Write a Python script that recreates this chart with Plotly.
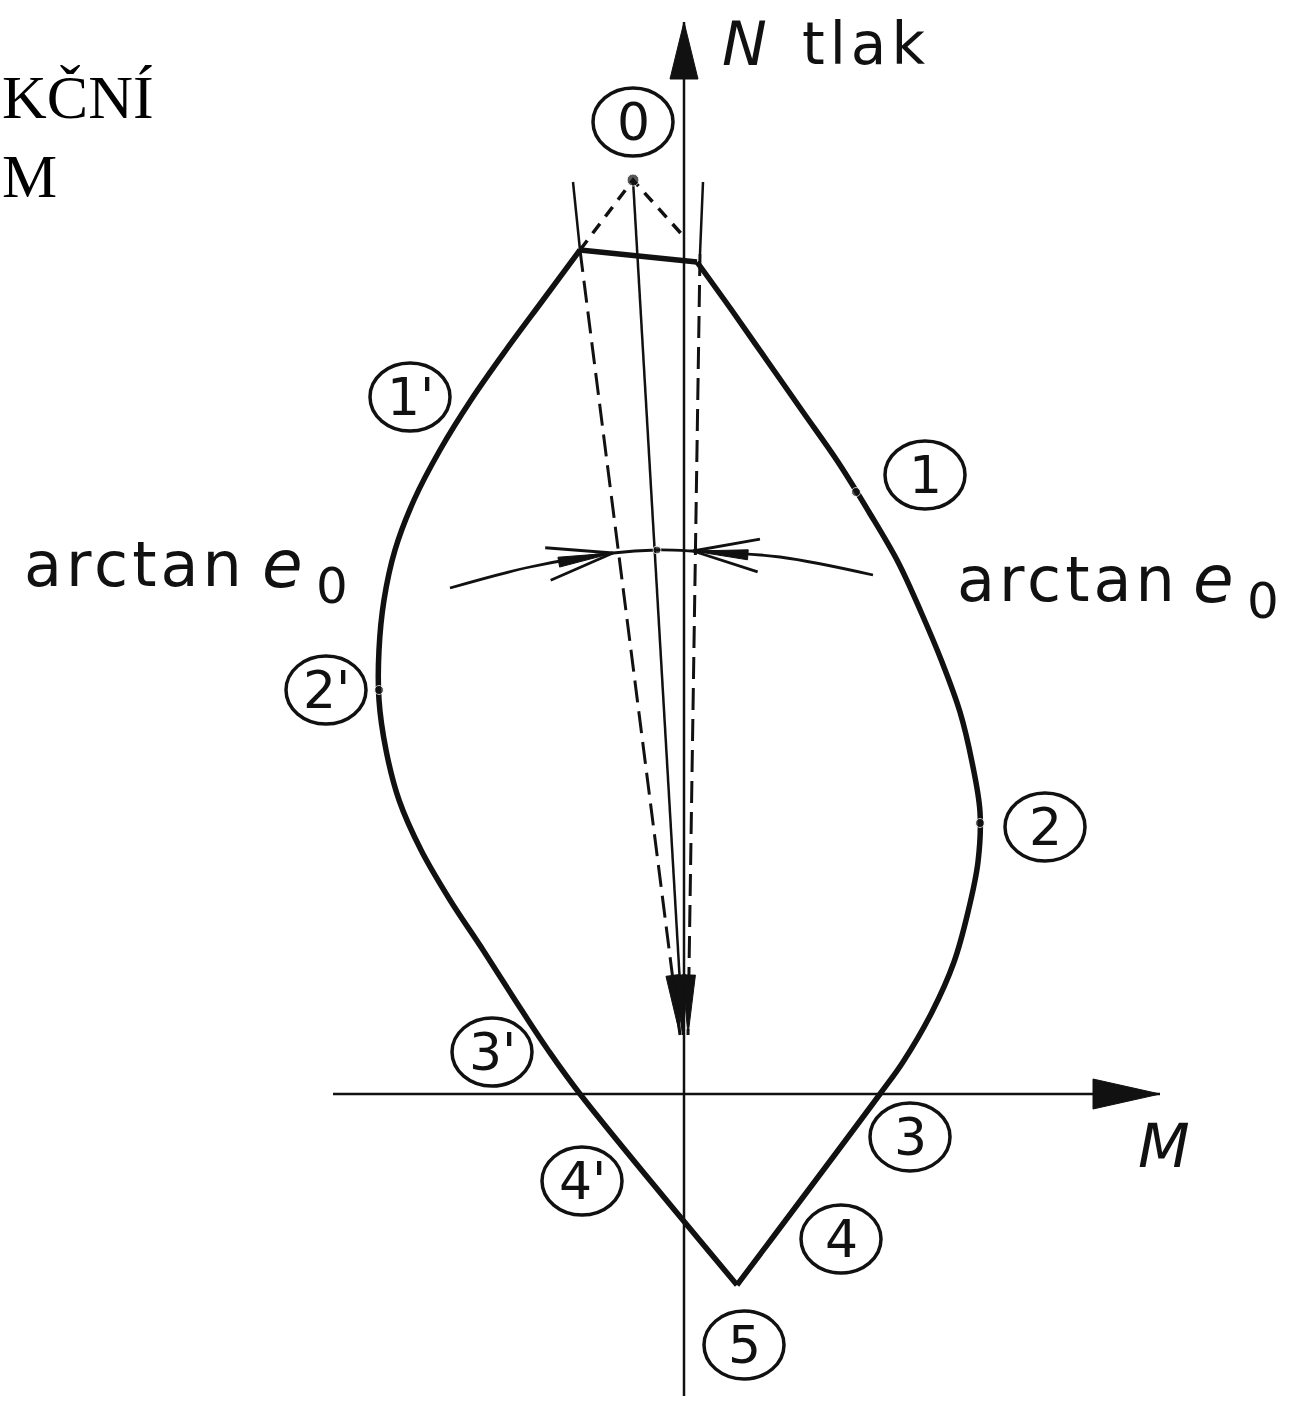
import numpy as np
import plotly.graph_objects as go

# Interaction diagram (N - M) of a cross-section.
# Drawing units: M to the right, N (compression) upward; 1 unit = 100 px.

# left branch of the failure envelope: top corner -> tension tip (point 5)
left_branch_M = [-1.04, -1.41, -1.78, -2.13, -2.44, -2.70, -2.89, -3.00, -3.05, -3.05,
                 -2.98, -2.85, -2.63, -2.34, -2.01, -1.69, -1.36, -1.04, 0.53]
left_branch_N = [8.44, 7.94, 7.44, 6.94, 6.44, 5.94, 5.44, 4.94, 4.44, 3.94,
                 3.44, 2.94, 2.44, 1.94, 1.44, 0.94, 0.44, 0.00, -1.91]

# right branch of the failure envelope: top corner -> tension tip (point 5)
right_branch_M = [0.13, 0.49, 0.84, 1.19, 1.54, 1.85, 2.14, 2.37, 2.58, 2.76,
                  2.88, 2.96, 2.94, 2.84, 2.70, 2.48, 2.19, 1.96, 0.53]
right_branch_N = [8.32, 7.82, 7.32, 6.82, 6.32, 5.82, 5.32, 4.82, 4.32, 3.82,
                  3.32, 2.82, 2.32, 1.82, 1.32, 0.82, 0.32, 0.00, -1.91]

# top chord between the two corners
top_chord_M = [-1.04, 0.13]
top_chord_N = [8.44, 8.32]

# pure compression point 0 and the dashed cut-off
peak_M, peak_N = -0.51, 9.14
cutoff_M = [-1.04, -0.51, 0.02]
cutoff_N = [8.44, 9.14, 8.55]

# marked points on the envelope (1, 2, 2')
dots_M = [1.72, 2.96, -3.05]
dots_N = [6.02, 2.71, 4.04]

# lines of limiting eccentricity (top, corner, foot)
ecc_left_M = [-1.11, -1.04, -0.04]
ecc_left_N = [9.12, 8.44, 0.59]
ecc_right_M = [0.19, 0.16, 0.04]
ecc_right_N = [9.12, 8.40, 0.59]
axial_M = [peak_M, -0.01]
axial_N = [peak_N, 0.59]

# arc marking the angle arctan e0
arc_M = [-2.34, -1.54, -0.71, -0.27, 0.09, 0.96, 1.89]
arc_N = [5.06, 5.27, 5.41, 5.44, 5.43, 5.37, 5.19]

# circled point numbers
point_labels = ["0", "1'", "1", "2'", "2", "3'", "3", "4'", "4", "5"]
label_M = [-0.51, -2.74, 2.41, -3.58, 3.61, -1.92, 2.26, -1.02, 1.57, 0.60]
label_N = [9.72, 6.97, 6.19, 4.04, 2.67, 0.42, -0.43, -0.87, -1.45, -2.51]

# axes
n_axis_M = [0.0, 0.0]
n_axis_N = [-3.02, 10.72]
m_axis_M = [-3.51, 4.76]
m_axis_N = [0.0, 0.0]

INK = "#111111"
FONT = "DejaVu Sans"


def head_path(tip, tail, length, half):
    tip = np.asarray(tip, float)
    d = tip - np.asarray(tail, float)
    d /= np.hypot(*d)
    p = np.array([-d[1], d[0]])
    base = tip - d * length
    a = base + p * half
    b = base - p * half
    return f"M {tip[0]},{tip[1]} L {a[0]},{a[1]} L {b[0]},{b[1]} Z"


def barbs(tip, tail, length, spread):
    tip = np.asarray(tip, float)
    d = tip - np.asarray(tail, float)
    d /= np.hypot(*d)
    out = []
    for s in (1, -1):
        c, sn = np.cos(s * spread), np.sin(s * spread)
        r = np.array([d[0] * c - d[1] * sn, d[0] * sn + d[1] * c])
        end = tip - r * length
        out.append(([tip[0], end[0]], [tip[1], end[1]]))
    return out


fig = go.Figure()


def line(xs, ys, width, dash="solid", shape="linear", color=INK, smoothing=1.0):
    fig.add_trace(go.Scatter(
        x=xs, y=ys, mode="lines", hoverinfo="skip", showlegend=False,
        line=dict(color=color, width=width, dash=dash, shape=shape, smoothing=smoothing),
    ))


# axes
line(n_axis_M, n_axis_N, 2.5)
line(m_axis_M, m_axis_N, 2.5)

# eccentricity lines: solid above the corner, dashed below
line(ecc_left_M[:2], ecc_left_N[:2], 2.5)
line(ecc_left_M[1:], ecc_left_N[1:], 3, dash="22px,9px")
line(ecc_right_M[:2], ecc_right_N[:2], 2.5)
line(ecc_right_M[1:], ecc_right_N[1:], 3, dash="22px,9px")
line(axial_M, axial_N, 2.5)

# cut-off of the compression peak
line(cutoff_M, cutoff_N, 3.5, dash="12px,9px")

# envelope
line(left_branch_M, left_branch_N, 5.5, shape="spline", smoothing=1.0)
line(right_branch_M, right_branch_N, 5.5, shape="spline", smoothing=1.0)
line(top_chord_M, top_chord_N, 5.5)

# angle arc
line(arc_M, arc_N, 2.8, shape="spline")

# points
fig.add_trace(go.Scatter(
    x=dots_M + [peak_M, arc_M[3]], y=dots_N + [peak_N, arc_N[3]], mode="markers",
    hoverinfo="skip", showlegend=False,
    marker=dict(color=INK, size=[9, 9, 9, 12, 8]),
))

shapes = []
# axis arrowheads
shapes.append(dict(type="path", xref="x", yref="y", fillcolor=INK, line=dict(color=INK, width=1),
                   path=head_path((n_axis_M[1], n_axis_N[1]), (n_axis_M[0], n_axis_N[0]), 0.57, 0.14)))
shapes.append(dict(type="path", xref="x", yref="y", fillcolor=INK, line=dict(color=INK, width=1),
                   path=head_path((m_axis_M[1], m_axis_N[1]), (m_axis_M[0], m_axis_N[0]), 0.67, 0.15)))
# arrowheads at the foot of the eccentricity lines
for xs, ys in ((ecc_left_M, ecc_left_N), (ecc_right_M, ecc_right_N), (axial_M, axial_N)):
    shapes.append(dict(type="path", xref="x", yref="y", fillcolor=INK, line=dict(color=INK, width=1),
                       path=head_path((xs[-1], ys[-1]), (xs[-2], ys[-2]), 0.60, 0.065)))

# arrows on the angle arc
for tip_i, tail_i in ((2, 1), (4, 5)):
    tip = (arc_M[tip_i], arc_N[tip_i])
    tail = (arc_M[tail_i], arc_N[tail_i])
    shapes.append(dict(type="path", xref="x", yref="y", fillcolor=INK, line=dict(color=INK, width=1),
                       path=head_path(tip, tail, 0.55, 0.05)))
    for bx, by in barbs(tip, tail, 0.68, np.radians(14)):
        line(bx, by, 2.8)

# circles round the point numbers
for m, n in zip(label_M, label_N):
    shapes.append(dict(type="circle", xref="x", yref="y", x0=m - 0.40, x1=m + 0.40,
                       y0=n - 0.34, y1=n + 0.34, line=dict(color=INK, width=3.5)))

annotations = []
for t, m, n in zip(point_labels, label_M, label_N):
    annotations.append(dict(x=m, y=n, xref="x", yref="y", text=t, showarrow=False,
                            xanchor="center", yanchor="middle",
                            font=dict(family=FONT, size=52, color=INK)))


def note(x, y, text, size, anchor="left", style="normal", family=FONT, color=INK):
    annotations.append(dict(x=x, y=y, xref="x", yref="y", text=text, showarrow=False,
                            xanchor=anchor, yanchor="middle",
                            font=dict(family=family, size=size, color=color, style=style)))


# axis titles
note(0.36, 10.50, "N", 60, style="italic")
note(1.16, 10.50, '<span style="letter-spacing:5px">tlak</span>', 58)
note(4.80, -0.52, "M", 60, anchor="center", style="italic")

# angle labels
for x_word, x_e, x_sub, y in ((-6.62, -4.24, -3.70, 5.30), (2.71, 5.07, 5.61, 5.15)):
    note(x_word, y, '<span style="letter-spacing:4px">arctan</span>', 62)
    note(x_e, y, "e", 66, style="italic")
    note(x_sub, y - 0.22, "0", 50)

# heading fragments in the upper left corner
note(-6.84, 9.97, "KČNÍ", 62, family="Liberation Serif", color="#000")
note(-6.84, 9.18, "M", 62, family="Liberation Serif", color="#000")

fig.update_layout(
    width=1303, height=1404,
    margin=dict(l=0, r=0, t=0, b=0),
    paper_bgcolor="white", plot_bgcolor="white",
    xaxis=dict(range=[-6.84, 6.19], visible=False, fixedrange=True),
    yaxis=dict(range=[-3.10, 10.94], visible=False, fixedrange=True),
    shapes=shapes, annotations=annotations,
)

fig.write_html("out.html")
